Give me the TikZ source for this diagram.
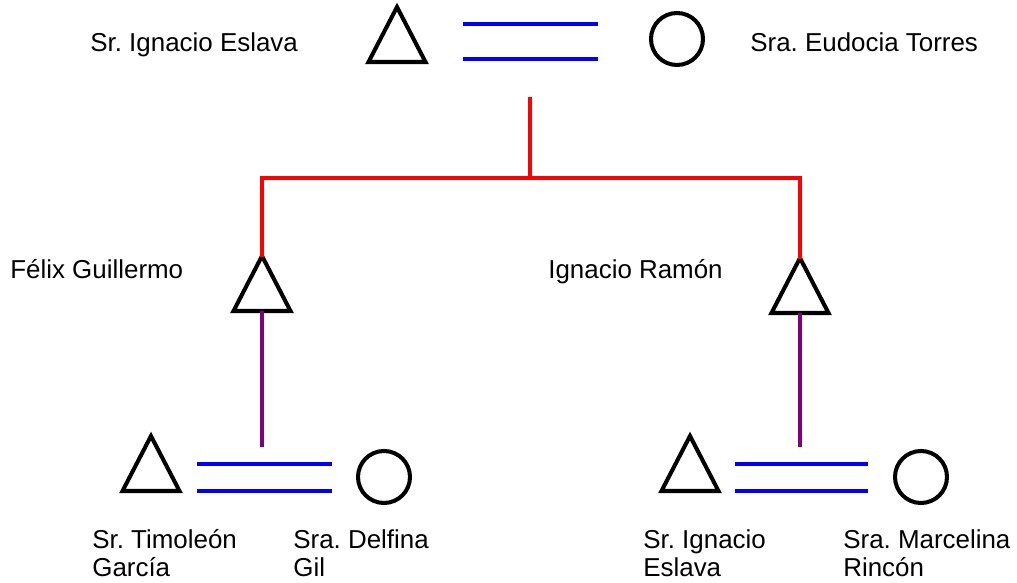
\documentclass[tikz,border=0pt]{standalone}
\usepackage{fontspec}
\setmainfont{Liberation Sans}
\usepackage{tikz}
\usetikzlibrary{arrows}
\definecolor{webpurple}{RGB}{128,0,128}
\frenchspacing
\tikzset{
  sym/.style={line width=2.3pt, black, line join=miter},
  marr/.style={line width=2.3pt, blue},
  desc/.style={line width=2.3pt, red},
  child/.style={line width=2.3pt, webpurple},
  lbl/.style={anchor=base west, inner sep=0pt, align=left, font=\fontsize{14.75pt}{16.5pt}\selectfont},
  fem/.style={circle, draw, line width=2.3pt, minimum size=1.04cm, inner sep=0pt}
}
\begin{document}
\begin{tikzpicture}
\useasboundingbox (0,0) rectangle (20.34,11.66);

% hombres (triangulos, base centrada)
\coordinate (m0) at (7.94, 10.42);
\coordinate (m1) at (5.24, 5.44);
\coordinate (m2) at (16.0, 5.40);
\coordinate (m3) at (3.02, 1.84);
\coordinate (m4) at (13.8, 1.84);
\foreach \m in {m0,m1,m2,m3,m4}
  \draw[sym] (\m) ++(-0.57,0) -- ++(1.14,0) -- ++(-0.57,1.1) -- cycle;
\coordinate (m1top) at (5.24, 6.52);
\coordinate (m2top) at (16.0, 6.48);

% mujeres
\node[fem] (f0) at (13.54, 10.88) {};
\node[fem] (f3) at (7.68, 2.12) {};
\node[fem] (f4) at (18.42, 2.12) {};

% matrimonios
\coordinate (c0a) at (9.26, 11.18); \coordinate (c0b) at (11.96, 11.18);
\coordinate (c0c) at (9.26, 10.48); \coordinate (c0d) at (11.96, 10.48);
\draw[marr] (c0a) -- (c0b);
\draw[marr] (c0c) -- (c0d);

\coordinate (c3a) at (3.94, 2.38); \coordinate (c3b) at (6.64, 2.38);
\coordinate (c3c) at (3.94, 1.84); \coordinate (c3d) at (6.64, 1.84);
\draw[marr] (c3a) -- (c3b);
\draw[marr] (c3c) -- (c3d);

\coordinate (c4a) at (14.7, 2.38); \coordinate (c4b) at (17.36, 2.38);
\coordinate (c4c) at (14.7, 1.84); \coordinate (c4d) at (17.36, 1.84);
\draw[marr] (c4a) -- (c4b);
\draw[marr] (c4c) -- (c4d);

% descendencia
\coordinate (d0) at (10.6, 9.72);
\coordinate (d1) at (10.6, 8.1);
\draw[desc] (d0) -- (d1);
\draw[desc] (m1top) |- (d1) -| (m2top);

\coordinate (h3) at (5.24, 2.72);
\coordinate (h4) at (16.0, 2.72);
\draw[child] (m1) -- (h3);
\draw[child] (m2) -- (h4);

% nombres
\node[lbl] (n0) at (1.8, 10.62) {Sr. Ignacio Eslava};
\node[lbl] (n1) at (15.0, 10.62) {Sra. Eudocia Torres};
\node[lbl] (n2) at (0.2, 6.08) {Félix Guillermo};
\node[lbl] (n3) at (10.96, 6.08) {Ignacio Ramón};
\node[lbl] (n4) at (1.84, 0.12) {Sr. Timoleón\\García};
\node[lbl] (n5) at (5.86, 0.12) {Sra. Delfina\\Gil};
\node[lbl] (n6) at (12.86, 0.12) {Sr. Ignacio\\Eslava};
\node[lbl] (n7) at (16.86, 0.12) {Sra. Marcelina\\Rincón};
\end{tikzpicture}
\end{document}
